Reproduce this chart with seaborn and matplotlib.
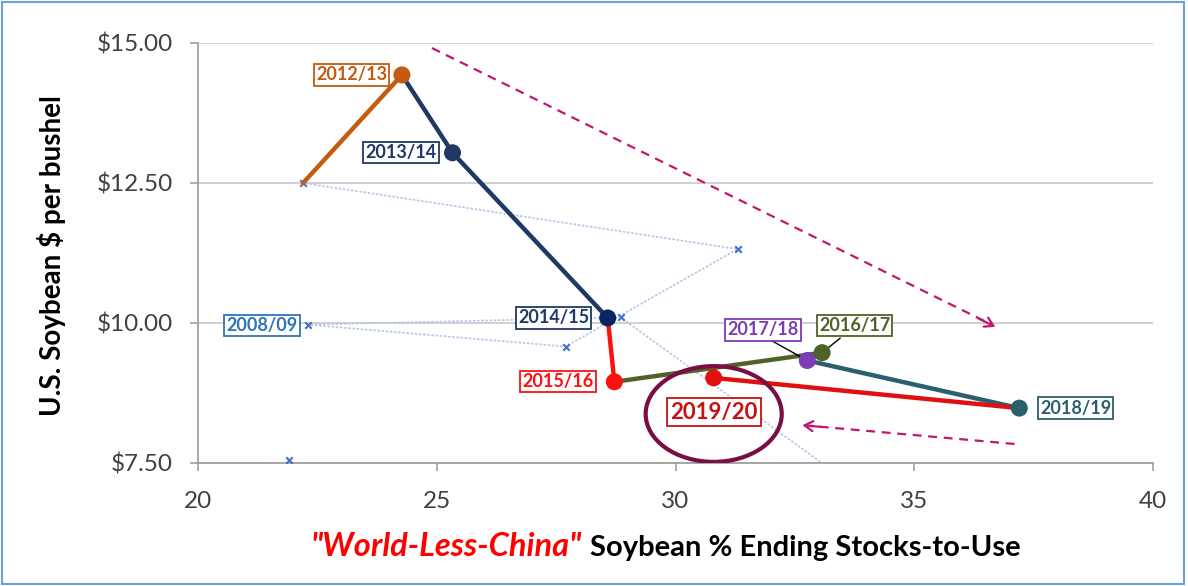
import matplotlib
matplotlib.use("Agg")
import matplotlib.pyplot as plt
import seaborn as sns
import pandas as pd
from matplotlib.patches import Ellipse, Rectangle

# ---- data ----
light_seasons = ["2005/06", "2006/07", "2007/08", "2008/09", "2009/10", "2010/11", "2011/12"]
light_x = [21.9, 34.8, 28.85, 22.3, 27.7, 31.3, 22.2]
light_y = [7.55, 6.43, 10.10, 9.97, 9.58, 11.32, 12.50]

seasons = ["2011/12", "2012/13", "2013/14", "2014/15", "2015/16", "2016/17", "2017/18", "2018/19", "2019/20"]
stocks_x = [22.2, 24.27, 25.33, 28.58, 28.72, 33.07, 32.76, 37.2, 30.8]
price_y = [12.50, 14.43, 13.04, 10.09, 8.95, 9.47, 9.33, 8.48, 9.02]
seg_colors = [None, "#C55A11", "#1F3864", "#1F3864", "#FF1010", "#4F6228", "#4F6228", "#2A5F6E", "#E01010"]
pt_colors = ["#4472C4", "#C55A11", "#1F3864", "#0B2463", "#FF1010", "#4F6228", "#7D3CB5", "#2A5F6E", "#E01010"]

x_ticks = [20, 25, 30, 35, 40]
y_ticks = [7.5, 10.0, 12.5, 15.0]
y_tick_labels = ["\\$7.50", "\\$10.00", "\\$12.50", "\\$15.00"]

labels = {
    "2012/13": (23.22, 14.43, "#C55A11"),
    "2013/14": (24.25, 13.04, "#1F3864"),
    "2014/15": (27.45, 10.09, "#1F3864"),
    "2015/16": (27.54, 8.95, "#FF1010"),
    "2008/09": (21.34, 9.96, "#2E75B6"),
    "2017/18": (31.83, 9.875, "#7D3CB5"),
    "2016/17": (33.75, 9.96, "#4F6228"),
    "2018/19": (38.38, 8.48, "#2A5F6E"),
}

sns.set_theme(style="white")
plt.rcParams["font.family"] = ["Lato", "DejaVu Sans"]

fig = plt.figure(figsize=(11.88, 5.86), dpi=100)
ax = fig.add_axes([198 / 1188, 1 - 463 / 586, (1153 - 198) / 1188, (463 - 43) / 586])

# light historical series (first point stands alone)
light_df = pd.DataFrame({"season": light_seasons, "x": light_x, "y": light_y})
sns.lineplot(data=light_df.iloc[1:], x="x", y="y", sort=False, estimator=None, ax=ax,
             color="#B4C7E7", lw=1.2, linestyle=(0, (1.5, 1)), zorder=2)
sns.scatterplot(data=light_df, x="x", y="y", ax=ax, marker="x", color="#4472C4",
                s=22, linewidth=1.5, zorder=3)

# main series segments
df = pd.DataFrame({"season": seasons, "x": stocks_x, "y": price_y})
for i in range(1, len(df)):
    seg = df.iloc[i - 1:i + 1]
    sns.lineplot(data=seg, x="x", y="y", sort=False, estimator=None, ax=ax,
                 color=seg_colors[i], lw=3.2, zorder=4, solid_capstyle="round")
for i in range(1, len(df)):
    sns.scatterplot(data=df.iloc[i:i + 1], x="x", y="y", ax=ax, color=pt_colors[i],
                    s=150, edgecolor="none", zorder=5)

# labels
for name, (lx, ly, c) in labels.items():
    ax.text(lx, ly, name, color=c, fontsize=13, fontweight="bold", ha="center", va="center",
            bbox=dict(boxstyle="square,pad=0.12", fc="white", ec=c, lw=1.3), zorder=6)
ax.text(30.8, 8.41, "2019/20", color="#C81010", fontsize=16, fontweight="bold", ha="center",
        va="center", bbox=dict(boxstyle="square,pad=0.15", fc="white", ec="#C81010", lw=1.3), zorder=6)

# leader lines
ax.plot([31.98, 32.76], [9.70, 9.33], color="black", lw=1, zorder=4.5)
ax.plot([33.45, 33.07], [9.73, 9.47], color="black", lw=1, zorder=4.5)

# ellipse
ax.add_patch(Ellipse((30.80, 8.375), 2.85, 1.71, fill=False, ec="#7B0C44", lw=3, zorder=7))

# dashed arrows
ac = "#C0186E"
ax.plot([24.9, 36.6], [14.91, 9.98], color=ac, lw=1.6, linestyle=(0, (4, 3)), zorder=3)
ax.annotate("", xy=(36.75, 9.91), xytext=(36.3, 10.10),
            arrowprops=dict(arrowstyle="->,head_length=0.5,head_width=0.3", color=ac, lw=1.6))
ax.plot([37.1, 32.8], [7.84, 8.165], color=ac, lw=1.6, linestyle=(0, (4, 3)), zorder=3)
ax.annotate("", xy=(32.6, 8.18), xytext=(33.1, 8.14),
            arrowprops=dict(arrowstyle="->,head_length=0.5,head_width=0.3", color=ac, lw=1.6))

# axes styling
ax.set_xlim(20, 40)
ax.set_ylim(7.5, 15)
ax.set_xticks(x_ticks)
ax.set_xticklabels([str(t) for t in x_ticks])
ax.set_yticks(y_ticks)
ax.set_yticklabels(y_tick_labels)
ax.yaxis.grid(True, color="#C8C8C8", lw=1.2)
ax.xaxis.grid(False)
for s in ["top", "right"]:
    ax.spines[s].set_visible(False)
for s in ["left", "bottom"]:
    ax.spines[s].set_color("#A0A0A0")
    ax.spines[s].set_linewidth(1.3)
ax.tick_params(axis="both", which="major", length=6, width=1.2, color="#A0A0A0",
               labelsize=17.5, labelcolor="#404040", direction="out", bottom=True, left=True)
ax.tick_params(axis="y", pad=12)
ax.tick_params(axis="x", pad=14)
ax.set_xlabel("")
ax.set_ylabel("")

fig.text(52 / 1188, 1 - 256 / 586, "U.S. Soybean \\$ per bushel", rotation=90, fontsize=20,
         fontweight="bold", ha="center", va="center", color="black")
fig.text(582 / 1188, 1 - 547 / 586, '"World-Less-China"', color="#FF0000", fontsize=23.5,
         fontweight="bold", fontstyle="italic", ha="right", va="center")
fig.text(590 / 1188, 1 - 548 / 586, "Soybean % Ending Stocks-to-Use", color="black", fontsize=21,
         fontweight="bold", ha="left", va="center")

fig.patches.append(Rectangle((0.002, 0.003), 0.995, 0.993, transform=fig.transFigure,
                             fill=False, ec="#6FA0D8", lw=1.5))

fig.savefig("out.png", dpi=100)
